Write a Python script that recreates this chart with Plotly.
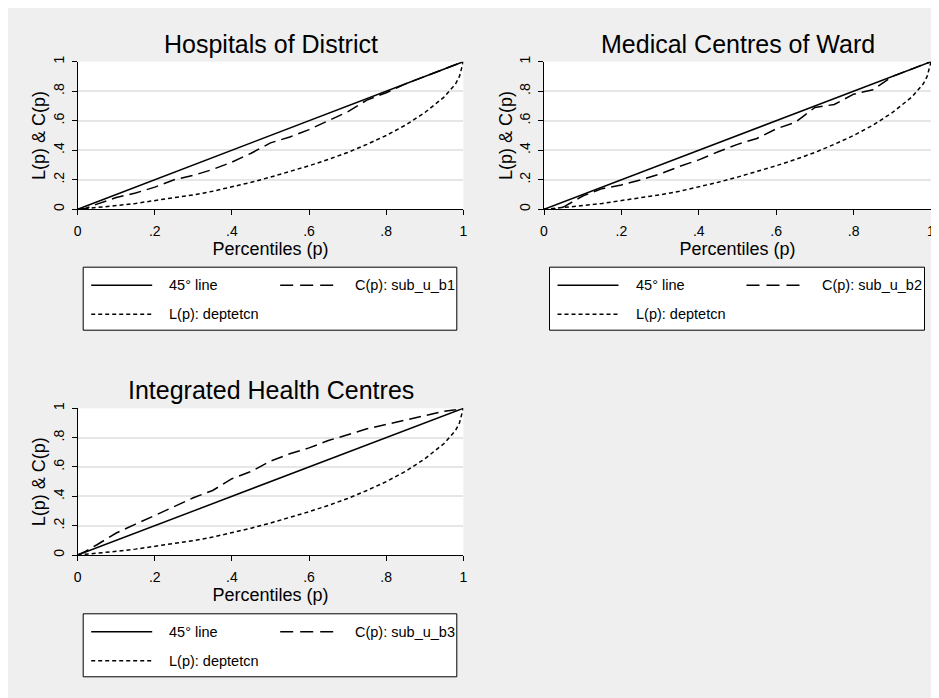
import plotly.graph_objects as go

# ---------------- data ----------------
percentiles = [0, .02, .05, .1, .15, .2, .25, .3, .35, .4, .45, .5, .55, .6,
               .65, .7, .75, .8, .85, .9, .95, .98, .99, 1]
diag_line = [0, 1]
diag_p = [0, 1]
L_deptetcn = [0, .004, .011, .025, .040, .058, .077, .098, .122, .152, .183, .218,
              .255, .295, .338, .385, .440, .500, .570, .655, .760, .850, .900, 1.0]
C_sub_u_b1 = [0, .005, .035, .08, .11, .15, .20, .23, .27, .32, .38, .45, .49, .54,
              .60, .66, .74, .79, .85, .90, .95, .98, .99, 1]
C_sub_u_b2 = [0, -.005, .015, .09, .14, .165, .20, .24, .29, .335, .39, .44, .48, .545,
              .59, .69, .71, .78, .81, .90, .95, .98, .99, 1]
C_sub_u_b3 = [0, .025, .07, .15, .21, .27, .33, .39, .44, .52, .57, .64, .69, .73,
              .78, .82, .86, .89, .92, .95, .98, .99, .995, 1]

panel_titles = ["Hospitals of District", "Medical Centres of Ward", "Integrated Health Centres"]
c_names = ["C(p): sub_u_b1", "C(p): sub_u_b2", "C(p): sub_u_b3"]
c_series = [C_sub_u_b1, C_sub_u_b2, C_sub_u_b3]
diag_name = "45° line"
l_name = "L(p): deptetcn"
tick_vals = [0, .2, .4, .6, .8, 1]
tick_text = ["0", ".2", ".4", ".6", ".8", "1"]
x_title = "Percentiles (p)"
y_title = "L(p) & C(p)"

# ---------------- layout geometry (pixels, page coords) ----------------
W, H = 939, 698
OFF = 8  # page body margin
FONT = "Liberation Sans, Arial, sans-serif"
BG = "#efefef"
# plot boxes in page pixels: x0, x1, ytop, ybottom
boxes = [(77.7, 463.3, 61.7, 209.3),
         (544.0, 931.0, 61.7, 209.3),
         (77.7, 463.3, 408.3, 555.0)]


def fx(px):
    return (px - OFF) / W


def fy(py):
    return 1 - (py - OFF) / H


DASH_C = "12px,6px"
DASH_L = "4px,3px"
LW = 1.5

fig = go.Figure()
shapes = []
annotations = []

for i, (x0, x1, yt, yb) in enumerate(boxes):
    xa = "x" if i == 0 else f"x{i+1}"
    ya = "y" if i == 0 else f"y{i+1}"
    fig.add_trace(go.Scatter(x=diag_p, y=diag_line, mode="lines", name=diag_name,
                             line=dict(color="black", width=LW), xaxis=xa, yaxis=ya,
                             showlegend=False))
    fig.add_trace(go.Scatter(x=percentiles, y=c_series[i], mode="lines", name=c_names[i],
                             line=dict(color="black", width=LW, dash=DASH_C), xaxis=xa, yaxis=ya,
                             showlegend=False))
    fig.add_trace(go.Scatter(x=percentiles, y=L_deptetcn, mode="lines", name=l_name,
                             line=dict(color="black", width=LW, dash=DASH_L), xaxis=xa, yaxis=ya,
                             showlegend=False))

    axkey = "xaxis" if i == 0 else f"xaxis{i+1}"
    aykey = "yaxis" if i == 0 else f"yaxis{i+1}"
    fig.layout[axkey] = dict(
        domain=[fx(x0), fx(x1)], anchor=ya, range=[0, 1],
        tickvals=tick_vals, ticktext=tick_text, ticks="outside", ticklen=5,
        tickcolor="black", showline=True, linecolor="black", linewidth=1,
        showgrid=False, zeroline=False, tickfont=dict(size=14, family=FONT, color="black"),
        ticklabelstandoff=4,
        title=dict(text=x_title, font=dict(size=18, family=FONT, color="black"), standoff=0),
        automargin=False, fixedrange=True)
    fig.layout[aykey] = dict(
        domain=[fy(yb), fy(yt)], anchor=xa, range=[0, 1],
        tickvals=tick_vals, ticktext=tick_text, ticks="outside", ticklen=5,
        tickcolor="black", showline=True, linecolor="black", linewidth=1,
        showgrid=True, gridcolor="#e6e6e6", gridwidth=1.5, zeroline=False,
        tickangle=-90, tickfont=dict(size=14, family=FONT, color="black"),
        ticklabelstandoff=2,
        title=dict(text=y_title, font=dict(size=18, family=FONT, color="black"), standoff=0),
        automargin=False, fixedrange=True)

    # panel title
    annotations.append(dict(text=panel_titles[i], x=fx((x0 + x1) / 2), y=fy(yt - 18),
                            xref="paper", yref="paper", xanchor="center", yanchor="middle",
                            showarrow=False, font=dict(size=25, family=FONT, color="black")))

    # legend box
    lx0 = x0 + 5.5
    lx1 = x1 - 6.5
    ly0 = yt + 205.5
    ly1 = ly0 + 63
    r1 = ly0 + 18
    r2 = ly0 + 47
    shapes.append(dict(type="rect", xref="paper", yref="paper",
                       x0=fx(lx0), x1=fx(lx1), y0=fy(ly1), y1=fy(ly0),
                       line=dict(color="black", width=1), fillcolor="white", layer="below"))
    shapes.append(dict(type="line", xref="paper", yref="paper",
                       x0=fx(lx0 + 8), x1=fx(lx0 + 69), y0=fy(r1), y1=fy(r1),
                       line=dict(color="black", width=LW)))
    shapes.append(dict(type="line", xref="paper", yref="paper",
                       x0=fx(lx0 + 197), x1=fx(lx0 + 254), y0=fy(r1), y1=fy(r1),
                       line=dict(color="black", width=LW, dash="13px,7px")))
    shapes.append(dict(type="line", xref="paper", yref="paper",
                       x0=fx(lx0 + 8), x1=fx(lx0 + 69), y0=fy(r2), y1=fy(r2),
                       line=dict(color="black", width=LW, dash=DASH_L)))
    for txt, tx, ty in [(diag_name, lx0 + 84, r1), (c_names[i], lx0 + 270, r1), (l_name, lx0 + 84, r2)]:
        annotations.append(dict(text=txt, x=fx(tx), y=fy(ty), xref="paper", yref="paper",
                                xanchor="left", yanchor="middle", showarrow=False,
                                font=dict(size=14.5, family=FONT, color="black")))

fig.update_layout(
    width=W, height=H, margin=dict(l=0, r=0, t=0, b=0),
    paper_bgcolor=BG, plot_bgcolor="white",
    font=dict(family=FONT, color="black"),
    showlegend=False, shapes=shapes, annotations=annotations)

fig.write_html("out.html")
